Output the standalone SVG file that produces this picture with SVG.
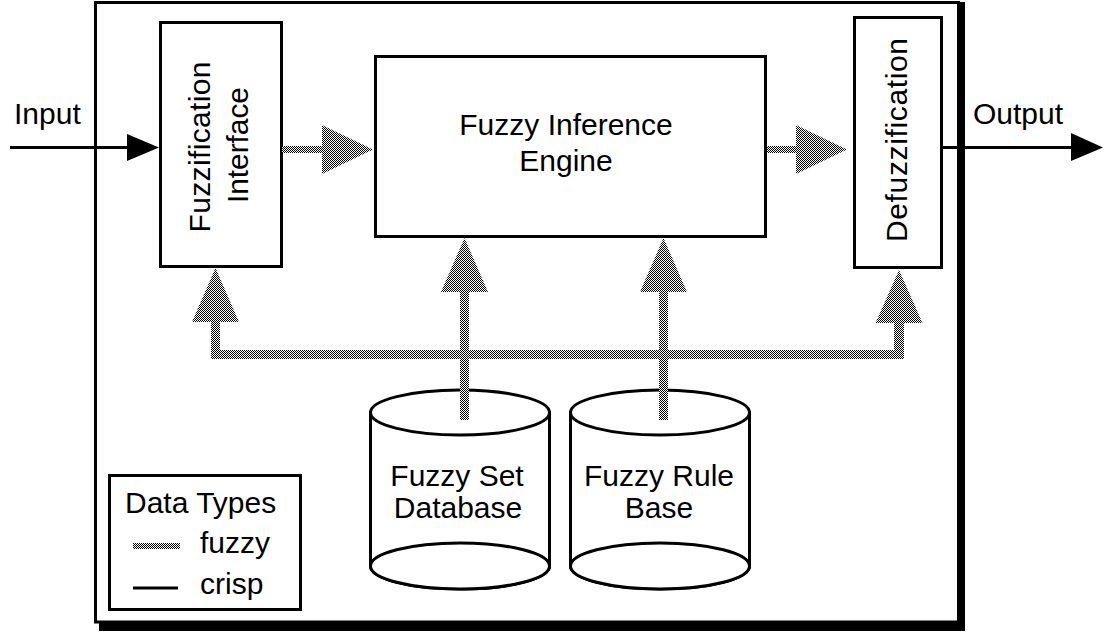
<svg xmlns="http://www.w3.org/2000/svg" width="1105" height="634" viewBox="0 0 1105 634">
<style>
.box{fill:#fff;stroke:#000;stroke-width:3}
.t{font-family:"Liberation Sans",Arial,Helvetica,sans-serif;font-size:30px;fill:#000}
.m{text-anchor:middle}
.crisp{stroke:#000;stroke-width:3;fill:none}
.fz{fill:url(#dither);stroke:none}
</style>
<defs>
<pattern id="dither" width="2" height="2" patternUnits="userSpaceOnUse">
<rect width="2" height="2" fill="#fff"/>
<rect width="1" height="1" fill="#000"/>
<rect x="1" y="1" width="1" height="1" fill="#000"/>
</pattern>
</defs>
<rect width="1105" height="634" fill="#fff"/>
<g id="frame">
<rect x="959" y="2" width="6" height="629" fill="#000"/>
<rect x="99" y="622" width="866" height="9" fill="#000"/>
<rect x="95.5" y="2.5" width="863" height="619.5" class="box"/>
</g>
<g id="fuzzification">
<rect x="160.5" y="22.5" width="121" height="244" class="box"/>
<text class="t m" transform="translate(210,147) rotate(-90)" textLength="171" lengthAdjust="spacing">Fuzzification</text>
<text class="t m" transform="translate(248,145) rotate(-90)" textLength="116" lengthAdjust="spacing">Interface</text>
</g>
<g id="engine">
<rect x="375.5" y="56.5" width="390" height="180" class="box"/>
<text class="t m" x="566" y="135">Fuzzy Inference</text>
<text class="t m" x="566" y="171">Engine</text>
</g>
<g id="defuzzification">
<rect x="854.5" y="17.5" width="87" height="250" class="box"/>
<text class="t m" transform="translate(907,140) rotate(-90)" textLength="204" lengthAdjust="spacing">Defuzzification</text>
</g>
<g id="database">
<path d="M370.5,412.5 V566 A89.5,23 0 0 0 549.5,566 V412.5 Z" class="box"/>
<ellipse cx="460" cy="566" rx="89.5" ry="23" class="box"/>
<ellipse cx="460" cy="412.5" rx="89.5" ry="22.5" class="box"/>
<text class="t m" x="457" y="486">Fuzzy Set</text>
<text class="t m" x="458" y="518">Database</text>
</g>
<g id="rulebase">
<path d="M570.5,412.5 V566 A89.5,23 0 0 0 749.5,566 V412.5 Z" class="box"/>
<ellipse cx="660" cy="566" rx="89.5" ry="23" class="box"/>
<ellipse cx="660" cy="412.5" rx="89.5" ry="22.5" class="box"/>
<text class="t m" x="659" y="486">Fuzzy Rule</text>
<text class="t m" x="659" y="518">Base</text>
</g>
<g id="legend">
<rect x="109.5" y="475.5" width="191" height="134" class="box"/>
<text class="t" x="125" y="513">Data Types</text>
<rect x="133" y="543" width="47" height="6" class="fz"/>
<text class="t" x="200" y="553">fuzzy</text>
<line x1="133" y1="588" x2="178" y2="588" class="crisp"/>
<text class="t" x="200" y="594">crisp</text>
</g>
<g id="io-labels">
<text class="t" x="14" y="124">Input</text>
<text class="t" x="973" y="124">Output</text>
</g>
<g id="connectors">
<line x1="10" y1="147.5" x2="130" y2="147.5" class="crisp"/>
<polygon points="127,134 159,147.5 127,161" fill="#000"/>
<line x1="942" y1="147.5" x2="1073" y2="147.5" class="crisp"/>
<polygon points="1071,133 1103,147.5 1071,161" fill="#000"/>
<path class="fz" d="M282,146 H322 V125 L373,149.5 L322,174 V153 H282 Z"/>
<path class="fz" d="M767,146 H796 V125 L847,149.5 L796,174 V153 H767 Z"/>
<path class="fz" d="M211,359 V322 H192 L215.5,268 L239,322 H220 V350 H894 V323 H875.5 L899,270 L922.5,323 H904 V359 Z"/>
<path class="fz" d="M460,420 V292 H441 L464.5,238 L488,292 H469 V420 Z"/>
<path class="fz" d="M659,420 V292 H640 L663.5,238 L687,292 H668 V420 Z"/>
</g>
</svg>
